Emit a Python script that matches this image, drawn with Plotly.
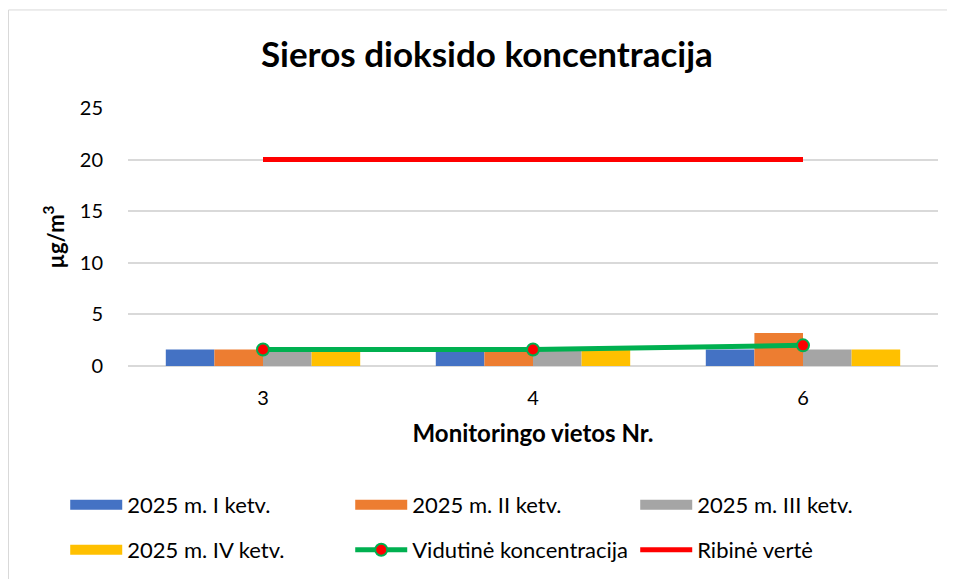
import plotly.graph_objects as go

# monitoring sites and quarterly SO2 concentrations (µg/m3)
sites = ["3", "4", "6"]
q1 = [1.6, 1.6, 1.6]
q2 = [1.6, 1.6, 3.2]
q3 = [1.6, 1.6, 1.6]
q4 = [1.6, 1.6, 1.6]
average = [1.6, 1.6, 2.0]
limit = [20, 20, 20]

quarter_names = ["2025 m. I ketv.", "2025 m. II ketv.", "2025 m. III ketv.", "2025 m. IV ketv."]
quarter_colors = ["#4472C4", "#ED7D31", "#A5A5A5", "#FFC000"]
quarter_legends = ["legend", "legend", "legend", "legend2"]

FONT = "Lato"

fig = go.Figure()
for name, vals, col, lg in zip(quarter_names, [q1, q2, q3, q4], quarter_colors, quarter_legends):
    fig.add_trace(go.Bar(x=sites, y=vals, name=name, marker_color=col,
                         marker_line_width=0, showlegend=False, legendgroup=name))
    # wide swatch for the legend, like the Excel one
    fig.add_trace(go.Scatter(x=[None], y=[None], name=name, mode="lines", legendgroup=name,
                             legend=lg, line=dict(color=col, width=13)))

fig.add_trace(go.Scatter(x=sites, y=average, name="Vidutinė koncentracija",
                         mode="lines+markers", legend="legend2",
                         line=dict(color="#00B050", width=5),
                         marker=dict(color="#FF0000", size=12,
                                     line=dict(color="#00B050", width=2))))
fig.add_trace(go.Scatter(x=sites, y=limit, name="Ribinė vertė", mode="lines",
                         legend="legend2", line=dict(color="#FF0000", width=5)))

# chart frame (left and top edges)
frame = dict(color="#D9D9D9", width=1)
fig.add_shape(type="line", xref="paper", yref="paper", x0=-0.1475, x1=-0.1475, y0=-1.0, y1=1.38, line=frame)
fig.add_shape(type="line", xref="paper", yref="paper", x0=-0.1475, x1=1.2, y0=1.38, y1=1.38, line=frame)

legend_common = dict(orientation="h", xanchor="left", yanchor="middle",
                     entrywidth=218, entrywidthmode="pixels", itemwidth=52,
                     font=dict(family=FONT, size=22, color="#000000"),
                     bgcolor="rgba(0,0,0,0)", itemsizing="trace")

fig.update_layout(
    width=939, height=600,
    margin=dict(l=120, r=9, t=100, b=242),
    paper_bgcolor="white", plot_bgcolor="white",
    font=dict(family=FONT, color="#000000"),
    title=dict(text="<b>Sieros dioksido koncentracija</b>", x=0.510, xanchor="center",
               xref="container", y=0.9217, yanchor="middle",
               font=dict(family=FONT, size=35, color="#000000")),
    barmode="group", bargap=0.28, bargroupgap=0,
    legend=dict(x=-0.0775, y=-0.539, **legend_common),
    legend2=dict(x=-0.0775, y=-0.713, **legend_common),
    xaxis=dict(
        type="category",
        title=dict(text="<b>Monitoringo vietos Nr.</b>", font=dict(family=FONT, size=24), standoff=17),
        tickfont=dict(family=FONT, size=20), ticks="", showline=False, showgrid=False,
        ticklabelstandoff=18,
    ),
    yaxis=dict(
        range=[0, 25], dtick=5,
        title=dict(text="<b>µg/m<sup>3</sup></b>", font=dict(family=FONT, size=22), standoff=9),
        tickfont=dict(family=FONT, size=20), ticks="", showline=False,
        gridcolor="#D9D9D9", gridwidth=1.5, zeroline=True, zerolinecolor="#D9D9D9", zerolinewidth=1.5,
        ticklabelstandoff=24,
    ),
)

fig.write_html("out.html")
